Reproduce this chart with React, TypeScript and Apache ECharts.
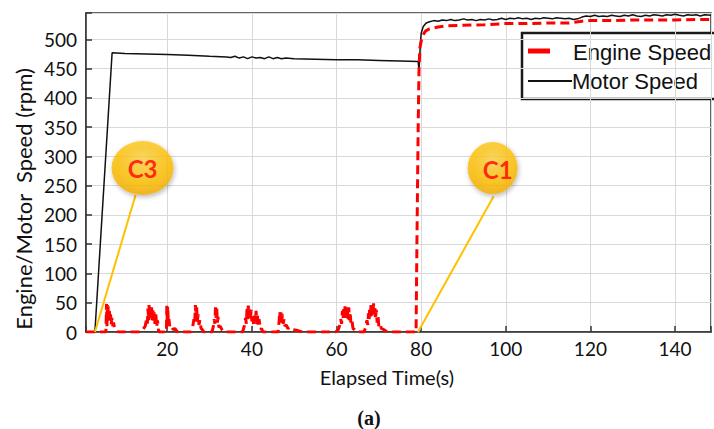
import React, { useEffect, useRef } from "react";
import * as echarts from "echarts";

const xTickLabels = [20, 40, 60, 80, 100, 120, 140];
const yTickLabels = [0, 50, 100, 150, 200, 250, 300, 350, 400, 450, 500];

const engineSpeed: [number, number][] = [
  [0.8, 0], [3, 0], [5.5, 0],
  [5.6, 30], [5.65, 48], [5.75, 10], [5.85, 46], [5.95, 20], [6.05, 44], [6.15, 28], [6.3, 40], [6.45, 18], [6.6, 30], [6.75, 12], [6.9, 24], [7.1, 10], [7.3, 16], [7.6, 5], [8.0, 2], [8.4, 0],
  [13.6, 0], [14.2, 4], [14.8, 10], [15.1, 22], [15.3, 14], [15.45, 40], [15.6, 20], [15.7, 46], [15.85, 24], [16.0, 44], [16.15, 26], [16.3, 42], [16.45, 20], [16.6, 38], [16.75, 16], [16.9, 34], [17.1, 14], [17.3, 30], [17.5, 10], [17.7, 20], [17.9, 4], [18.1, 0],
  [19.8, 0], [19.9, 45], [20.0, 20], [20.1, 44], [20.25, 16], [20.4, 22], [20.6, 8], [21.0, 10], [21.4, 4], [21.8, 6], [22.4, 0],
  [25.6, 0], [26.0, 8], [26.3, 22], [26.5, 14], [26.65, 46], [26.8, 22], [26.95, 42], [27.1, 18], [27.3, 30], [27.5, 12], [27.7, 20], [28.0, 6], [28.3, 4], [28.6, 0],
  [30.6, 0], [30.9, 10], [31.1, 22], [31.25, 14], [31.4, 42], [31.55, 24], [31.7, 40], [31.85, 16], [32.0, 26], [32.2, 8], [32.5, 10], [33.0, 3], [33.5, 0],
  [37.8, 0], [38.2, 10], [38.5, 24], [38.7, 14], [38.85, 40], [39.0, 22], [39.15, 45], [39.3, 26], [39.45, 42], [39.6, 20], [39.8, 38], [40.0, 18], [40.2, 30], [40.4, 14], [40.6, 28], [40.8, 18], [41.0, 36], [41.15, 14], [41.3, 30], [41.5, 10], [41.7, 22], [42.0, 4], [42.3, 6], [42.6, 0],
  [46.2, 0], [46.45, 20], [46.6, 35], [46.75, 18], [46.9, 33], [47.05, 16], [47.2, 30], [47.4, 14], [47.6, 22], [47.8, 10], [48.1, 12], [48.5, 6], [49.0, 8], [49.5, 4], [50.5, 3], [52.0, 0],
  [59.8, 0], [60.4, 4], [60.8, 12], [61.0, 22], [61.2, 14], [61.4, 36], [61.55, 22], [61.7, 40], [61.85, 24], [62.0, 44], [62.15, 28], [62.3, 42], [62.45, 24], [62.6, 38], [62.75, 22], [62.9, 42], [63.05, 20], [63.2, 34], [63.4, 16], [63.6, 22], [63.9, 6], [64.3, 4], [64.8, 0],
  [66.5, 0], [66.9, 8], [67.2, 20], [67.4, 12], [67.55, 32], [67.7, 20], [67.85, 42], [68.0, 26], [68.15, 46], [68.3, 28], [68.45, 48], [68.6, 30], [68.75, 49], [68.9, 30], [69.05, 44], [69.2, 22], [69.4, 38], [69.6, 16], [69.8, 28], [70.0, 10], [70.3, 14], [70.6, 6], [71.2, 4], [72.0, 0],
  [78.8, 0], [79.0, 150], [79.3, 350], [79.5, 450], [79.7, 485], [80.1, 500], [80.6, 509], [81, 514], [82, 518], [84, 521],
  [86, 523], [90, 524], [95, 525], [100, 527], [105, 527], [110, 528], [115, 528], [118, 531], [120, 532], [125, 532],
  [130, 533], [135, 533], [140, 533], [145, 534], [148.5, 534],
];

const motorSpeed: [number, number][] = [
  [0.8, 0], [2.9, 0], [6.97, 477], [10, 476], [15, 475], [20, 474], [25, 473], [30, 471], [34, 470],
  [35, 469], [36, 471], [37, 468], [38, 470], [39, 467], [40, 470], [41, 468], [42, 469], [43, 467], [44, 470],
  [45, 467], [46, 469], [47, 467], [48, 468], [50, 467], [55, 466], [60, 465], [65, 465], [70, 464], [75, 463],
  [79.3, 462], [79.5, 447], [79.8, 490], [80.0, 510], [80.5, 522], [81.2, 528], [82, 530], [83, 532], [84, 531],
  [85, 533], [86, 532], [87, 534], [88, 532], [89, 533], [90, 535], [91, 533], [92, 534], [93, 532], [94, 534],
  [95, 533], [96, 535], [97, 533], [98, 534], [99, 536], [100, 534], [101, 536], [102, 535], [103, 537], [104, 535],
  [105, 536], [106, 534], [107, 536], [108, 535], [109, 537], [110, 536], [111, 535], [112, 537], [113, 536],
  [114, 535], [115, 536], [116, 534], [117, 535], [118, 538], [119, 540], [120, 539], [121, 541], [122, 539],
  [123, 540], [124, 539], [125, 541], [126, 540], [127, 539], [128, 541], [129, 540], [130, 542], [131, 540],
  [132, 539], [133, 541], [134, 540], [135, 542], [136, 541], [137, 540], [138, 542], [139, 541], [140, 543],
  [141, 541], [142, 540], [143, 542], [144, 541], [145, 542], [146, 540], [147, 542], [148.5, 541],
];

const calloutLabels = ["C3", "C1"];
const calloutBubbles: [number, number][] = [[14.16, 280], [96.9, 280]];
const calloutTops: [number, number][] = [[12.52, 234], [97.14, 232]];
const calloutAnchors: [number, number][] = [[2.91, 0], [79.26, 0]];

const ELLIPSE = "path://M0 50 A50 50 0 1 1 100 50 A50 50 0 1 1 0 50 Z";

export default function App() {
  const ref = useRef<HTMLDivElement>(null);
  useEffect(() => {
    if (!ref.current) return;
    const chart = echarts.init(ref.current, null, { renderer: "svg" });
    const bubbleColor = new echarts.graphic.RadialGradient(0.5, 0.35, 0.7, [
      { offset: 0, color: "#FFD54A" },
      { offset: 0.6, color: "#FFC000" },
      { offset: 1, color: "#F0A800" },
    ]);
    const leaderSeries = calloutLabels.map((name, i) => ({
      type: "line",
      name: "leader" + name,
      data: [calloutAnchors[i], calloutTops[i]],
      showSymbol: false,
      symbol: "none",
      silent: true,
      z: 5,
      lineStyle: { color: "#FFC000", width: 2 },
    }));
    const sizes = [[62, 54], [50, 52]];
    const offsets = [[0, 0], [5, 1]];
    chart.setOption({
      animation: false,
      backgroundColor: "#ffffff",
      grid: {
        left: 86, top: 13, right: -2, bottom: 97, show: true,
        borderColor: "#333", borderWidth: 1.5, backgroundColor: "transparent",
      },
      xAxis: {
        type: "value", min: 0.8, max: 148.5, splitNumber: 7,
        axisLine: { lineStyle: { color: "#333", width: 1.5 } },
        axisTick: { inside: true, length: 6, lineStyle: { color: "#333", width: 1.5 } },
        axisLabel: {
          margin: 7, fontFamily: "Lato", fontSize: 19, color: "#111",
          formatter: (v: number) => (xTickLabels.includes(v) ? String(v) : ""),
        },
        splitLine: { show: true, lineStyle: { color: "#d9d9d9", width: 1 } },
      },
      yAxis: {
        type: "value", min: 0, max: 545, interval: 50,
        axisLine: { show: true, lineStyle: { color: "#333", width: 1.5 } },
        axisTick: { show: true, inside: true, length: 6, lineStyle: { color: "#333", width: 1.5 } },
        axisLabel: {
          margin: 9, fontFamily: "Lato", fontSize: 19, color: "#111",
          formatter: (v: number) => (yTickLabels.includes(v) ? String(v) : ""),
        },
        splitLine: { show: true, lineStyle: { color: "#d9d9d9", width: 1 } },
      },
      series: [
        {
          type: "line", name: "Motor Speed", data: motorSpeed, showSymbol: false, silent: true, z: 3,
          lineStyle: { color: "#111", width: 1.5 },
        },
        {
          type: "line", name: "Engine Speed", data: engineSpeed, showSymbol: false, silent: true, z: 4,
          lineStyle: { color: "#ff0000", width: 3, type: [9, 5] },
        },
        ...leaderSeries,
        {
          type: "scatter", name: "callouts", silent: true, z: 6,
          symbol: ELLIPSE,
          itemStyle: {
            color: bubbleColor, shadowBlur: 5, shadowOffsetX: 1, shadowOffsetY: 2,
            shadowColor: "rgba(0,0,0,0.35)",
          },
          label: {
            show: true, position: "inside", formatter: "{b}", color: "#ff0000",
            fontFamily: "Lato", fontWeight: "bold", fontSize: 24,
          },
          data: calloutLabels.map((name, i) => ({
            name, value: calloutBubbles[i], symbolSize: sizes[i],
            label: { offset: offsets[i] },
          })),
        },
      ],
      graphic: [
        {
          type: "text", x: 23, y: 199, rotation: Math.PI / 2, z: 10,
          style: {
            text: "Engine/Motor  Speed (rpm)", fill: "#111", font: "22px Lato",
            align: "center", verticalAlign: "middle",
          },
        },
        {
          type: "text", x: 387, y: 377, z: 10,
          style: {
            text: "Elapsed Time(s)", fill: "#111", font: "20px Lato",
            align: "center", verticalAlign: "middle",
          },
        },
        {
          type: "text", x: 369, y: 418, z: 10,
          style: {
            text: "(a)", fill: "#111", font: "bold 20px 'Liberation Serif'",
            align: "center", verticalAlign: "middle",
          },
        },
        {
          type: "group", z: 10,
          children: [
            {
              type: "rect", shape: { x: 522, y: 33, width: 220, height: 66 },
              style: { fill: "#fff", stroke: "#1a1a1a", lineWidth: 2.5 },
            },
            {
              type: "line", shape: { x1: 528, y1: 51, x2: 550, y2: 51 },
              style: { stroke: "#ff0000", lineWidth: 5 },
            },
            {
              type: "text", x: 573, y: 52,
              style: { text: "Engine Speed", fill: "#111", font: "22px 'Liberation Sans'", verticalAlign: "middle" },
            },
            {
              type: "line", shape: { x1: 528, y1: 81, x2: 572, y2: 81 },
              style: { stroke: "#111", lineWidth: 2 },
            },
            {
              type: "text", x: 572, y: 81,
              style: { text: "Motor Speed", fill: "#111", font: "22px 'Liberation Sans'", verticalAlign: "middle" },
            },
          ],
        },
      ],
    });
    return () => chart.dispose();
  }, []);
  return (
    <div
      ref={ref}
      style={{ position: "fixed", left: 0, top: 0, width: 714, height: 429, background: "#fff" }}
    />
  );
}
